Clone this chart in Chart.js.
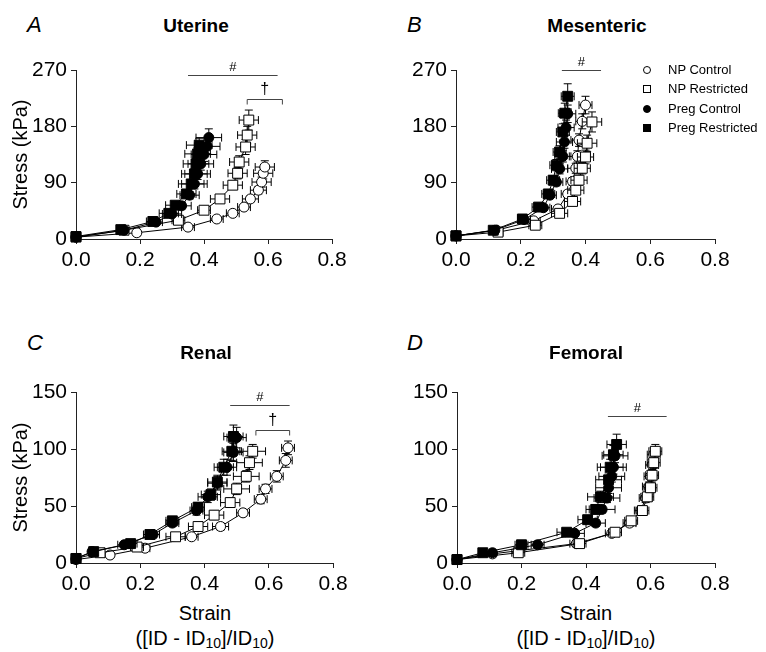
<!DOCTYPE html>
<html>
<head>
<meta charset="utf-8">
<script src="https://cdn.jsdelivr.net/npm/chart.js@4.4.0/dist/chart.umd.min.js"></script>
<style>
body { margin: 0; background: #fff; font-family: "Liberation Sans", Arial, sans-serif; color: #000; }
#page { position: relative; width: 766px; height: 652px; overflow: hidden; }
canvas, .txt { position: absolute; }
.letter { font-style: italic; font-size: 22px; line-height: 22px; }
.title { font-weight: bold; font-size: 19px; line-height: 19px; transform: translateX(-50%); white-space: nowrap; }
.xtitle { font-size: 20px; line-height: 25px; text-align: center; transform: translateX(-50%); white-space: nowrap; }
.xtitle sub { font-size: 14px; line-height: 0; vertical-align: -3px; }
.leg { font-size: 13px; line-height: 14px; white-space: nowrap; }
.mk { position: absolute; left: -25px; top: 3px; width: 8px; height: 8px; border: 1px solid #000; box-sizing: border-box; }
</style>
</head>
<body>
<div id="page">
  <canvas id="chartA" width="380" height="240" style="left:0;top:40px"></canvas>
  <canvas id="chartB" width="386" height="240" style="left:380px;top:40px"></canvas>
  <canvas id="chartC" width="380" height="240" style="left:0;top:360px"></canvas>
  <canvas id="chartD" width="386" height="240" style="left:380px;top:360px"></canvas>

  <div class="txt letter" style="left:27px;top:14px">A</div>
  <div class="txt letter" style="left:407px;top:14px">B</div>
  <div class="txt letter" style="left:27px;top:332px">C</div>
  <div class="txt letter" style="left:407px;top:332px">D</div>

  <div class="txt title" style="left:196px;top:16px">Uterine</div>
  <div class="txt title" style="left:597px;top:16px">Mesenteric</div>
  <div class="txt title" style="left:206px;top:343px">Renal</div>
  <div class="txt title" style="left:586px;top:343px">Femoral</div>

  <div class="txt xtitle" style="left:205px;top:601px">Strain<br>([ID - ID<sub>10</sub>]/ID<sub>10</sub>)</div>
  <div class="txt xtitle" style="left:586px;top:601px">Strain<br>([ID - ID<sub>10</sub>]/ID<sub>10</sub>)</div>

  <div class="txt leg" style="left:668px;top:63px"><span class="mk" style="border-radius:50%"></span>NP Control</div>
  <div class="txt leg" style="left:668px;top:82px"><span class="mk"></span>NP Restricted</div>
  <div class="txt leg" style="left:668px;top:102px"><span class="mk" style="border-radius:50%;background:#000"></span>Preg Control</div>
  <div class="txt leg" style="left:668px;top:121px"><span class="mk" style="background:#000"></span>Preg Restricted</div>
</div>
<script>
// axis ticks
const strainTicks = [0, 0.2, 0.4, 0.6, 0.8];
const stressTicksAB = [0, 90, 180, 270];
const stressTicksCD = [0, 50, 100, 150];

// A - Uterine
const A_npcStrain = [0, 0.19, 0.35, 0.44, 0.49, 0.525, 0.545, 0.57, 0.58, 0.585, 0.59];
const A_npcStress = [3, 10, 19, 32, 41, 51, 64, 78, 91, 105, 115];
const A_npcXErr = [0, 0.01, 0.02, 0.02, 0.02, 0.02, 0.025, 0.025, 0.03, 0.03, 0.03];
const A_npcYErr = [1, 1, 2, 3, 3, 4, 5, 6, 8, 9, 10];
const A_nprStrain = [0, 0.15, 0.32, 0.40, 0.45, 0.49, 0.505, 0.51, 0.53, 0.535, 0.54];
const A_nprStress = [3, 14, 30, 46, 64, 86, 105, 123, 147, 166, 190];
const A_nprXErr = [0, 0.01, 0.02, 0.02, 0.03, 0.03, 0.03, 0.03, 0.03, 0.03, 0.03];
const A_nprYErr = [1, 2, 3, 4, 5, 7, 9, 10, 12, 14, 16];
const A_pcStrain = [0, 0.15, 0.25, 0.30, 0.33, 0.355, 0.37, 0.38, 0.39, 0.40, 0.41, 0.415];
const A_pcStress = [3, 14, 27, 40, 53, 70, 88, 104, 120, 135, 148, 162];
const A_pcXErr = [0, 0.01, 0.02, 0.03, 0.03, 0.03, 0.04, 0.04, 0.04, 0.04, 0.04, 0.04];
const A_pcYErr = [1, 2, 3, 4, 5, 6, 8, 9, 10, 11, 12, 14];
const A_prStrain = [0, 0.14, 0.24, 0.29, 0.31, 0.345, 0.36, 0.37, 0.375, 0.38, 0.385];
const A_prStress = [4, 15, 28, 41, 54, 72, 88, 104, 120, 136, 150];
const A_prXErr = [0, 0.01, 0.02, 0.03, 0.03, 0.03, 0.04, 0.04, 0.04, 0.04, 0.04];
const A_prYErr = [1, 2, 3, 4, 5, 6, 7, 8, 9, 10, 11];

// B - Mesenteric
const B_npcStrain = [0, 0.125, 0.24, 0.315, 0.345, 0.36, 0.37, 0.375, 0.38, 0.39, 0.40];
const B_npcStress = [5, 14, 29, 48, 72, 92, 113, 132, 158, 188, 214];
const B_npcXErr = [0, 0.01, 0.02, 0.02, 0.02, 0.02, 0.025, 0.025, 0.025, 0.02, 0.02];
const B_npcYErr = [1, 2, 3, 4, 5, 6, 8, 9, 10, 12, 14];
const B_nprStrain = [0, 0.13, 0.245, 0.32, 0.36, 0.37, 0.38, 0.39, 0.40, 0.405, 0.42];
const B_nprStress = [5, 11, 22, 41, 60, 78, 94, 113, 131, 153, 187];
const B_nprXErr = [0, 0.015, 0.02, 0.025, 0.025, 0.025, 0.025, 0.025, 0.025, 0.03, 0.03];
const B_nprYErr = [1, 2, 3, 4, 5, 6, 8, 9, 11, 13, 16];
const B_pcStrain = [0, 0.12, 0.21, 0.27, 0.29, 0.31, 0.32, 0.33, 0.335, 0.34, 0.345];
const B_pcStress = [5, 14, 31, 50, 70, 91, 112, 132, 155, 178, 200];
const B_pcXErr = [0, 0.01, 0.02, 0.02, 0.02, 0.02, 0.025, 0.025, 0.025, 0.025, 0.025];
const B_pcYErr = [1, 2, 3, 4, 5, 6, 8, 9, 10, 12, 14];
const B_prStrain = [0, 0.115, 0.205, 0.255, 0.285, 0.30, 0.31, 0.32, 0.33, 0.336, 0.345];
const B_prStress = [5, 14, 32, 51, 72, 94, 118, 139, 171, 201, 228];
const B_prXErr = [0, 0.01, 0.015, 0.02, 0.02, 0.02, 0.02, 0.02, 0.02, 0.02, 0.02];
const B_prYErr = [1, 2, 3, 4, 6, 7, 9, 10, 13, 16, 20];

// C - Renal
const C_npcStrain = [0, 0.106, 0.215, 0.36, 0.45, 0.52, 0.575, 0.59, 0.625, 0.653, 0.66];
const C_npcStress = [3, 7, 13, 23, 32, 44, 56, 65, 76, 90, 101];
const C_npcXErr = [0, 0.01, 0.015, 0.02, 0.025, 0.02, 0.02, 0.02, 0.02, 0.02, 0.02];
const C_npcYErr = [1, 1, 2, 2, 3, 3, 4, 4, 5, 6, 6];
const C_nprStrain = [0, 0.075, 0.19, 0.31, 0.38, 0.43, 0.48, 0.50, 0.53, 0.54, 0.55];
const C_nprStress = [4, 9, 14, 23, 32, 42, 53, 65, 76, 88, 98];
const C_nprXErr = [0, 0.01, 0.02, 0.03, 0.03, 0.03, 0.03, 0.04, 0.04, 0.04, 0.04];
const C_nprYErr = [1, 1, 2, 2, 3, 4, 4, 5, 5, 6, 6];
const C_pcStrain = [0, 0.05, 0.15, 0.24, 0.30, 0.375, 0.41, 0.44, 0.47, 0.49, 0.50];
const C_pcStress = [4, 10, 16, 25, 35, 46, 58, 70, 84, 97, 110];
const C_pcXErr = [0, 0.01, 0.02, 0.02, 0.02, 0.02, 0.03, 0.03, 0.03, 0.03, 0.03];
const C_pcYErr = [1, 1, 2, 2, 3, 4, 5, 6, 7, 8, 9];
const C_prStrain = [0, 0.055, 0.17, 0.23, 0.30, 0.38, 0.42, 0.44, 0.46, 0.485, 0.49];
const C_prStress = [4, 10, 17, 25, 37, 49, 60, 71, 84, 98, 111];
const C_prXErr = [0, 0.01, 0.02, 0.02, 0.02, 0.02, 0.03, 0.03, 0.03, 0.03, 0.03];
const C_prYErr = [1, 1, 2, 2, 3, 4, 5, 6, 7, 8, 10];

// D - Femoral
const D_npcStrain = [0, 0.11, 0.37, 0.48, 0.535, 0.57, 0.585, 0.595, 0.60, 0.605, 0.61];
const D_npcStress = [3, 8, 17, 26, 35, 46, 57, 67, 76, 86, 95];
const D_npcXErr = [0, 0.01, 0.02, 0.02, 0.02, 0.02, 0.02, 0.02, 0.02, 0.02, 0.02];
const D_npcYErr = [1, 1, 2, 2, 3, 3, 4, 4, 5, 5, 6];
const D_nprStrain = [0, 0.19, 0.38, 0.49, 0.54, 0.575, 0.59, 0.60, 0.605, 0.61, 0.615];
const D_nprStress = [3, 9, 17, 27, 37, 46, 58, 66, 77, 88, 98];
const D_nprXErr = [0, 0.02, 0.02, 0.02, 0.02, 0.02, 0.02, 0.02, 0.02, 0.02, 0.02];
const D_nprYErr = [1, 1, 2, 2, 3, 3, 4, 4, 5, 5, 6];
const D_pcStrain = [0, 0.11, 0.25, 0.365, 0.43, 0.45, 0.465, 0.47, 0.48, 0.485, 0.49];
const D_pcStress = [3, 9, 16, 26, 35, 47, 57, 66, 76, 84, 94];
const D_pcXErr = [0, 0.01, 0.02, 0.03, 0.03, 0.04, 0.04, 0.04, 0.04, 0.04, 0.04];
const D_pcYErr = [1, 1, 2, 2, 3, 3, 4, 5, 5, 6, 6];
const D_prStrain = [0, 0.08, 0.20, 0.34, 0.405, 0.43, 0.445, 0.47, 0.475, 0.485, 0.495];
const D_prStress = [3, 9, 16, 27, 38, 47, 58, 73, 84, 95, 104];
const D_prXErr = [0, 0.01, 0.02, 0.03, 0.03, 0.03, 0.04, 0.04, 0.04, 0.03, 0.03];
const D_prYErr = [1, 1, 2, 2, 3, 4, 5, 6, 7, 8, 9];

// significance bars: [strain from, strain to, stress]
const A_hashBar = [0.35, 0.63, 262];
const A_daggerBar = [0.535, 0.645, 224];
const B_hashBar = [0.327, 0.448, 270];
const C_hashBar = [0.48, 0.665, 139];
const C_daggerBar = [0.56, 0.665, 117];
const D_hashBar = [0.468, 0.65, 129];

const FONT = '"Liberation Sans", Arial, sans-serif';

// error bars under each dataset
const errorBars = {
    id: 'errorBars',
    beforeDatasetDraw(chart, args) {
        const ds = chart.data.datasets[args.index];
        if (!ds.xErr) return;
        const { ctx, scales: { x, y } } = chart;
        ctx.save();
        ctx.strokeStyle = '#000';
        ctx.lineWidth = 1;
        ctx.beginPath();
        ds.data.forEach((p, i) => {
            const px = x.getPixelForValue(p.x), py = y.getPixelForValue(p.y);
            const ex = ds.xErr[i], ey = ds.yErr[i];
            if (ex) {
                const l = x.getPixelForValue(p.x - ex), r = x.getPixelForValue(p.x + ex);
                ctx.moveTo(l, py); ctx.lineTo(r, py);
                ctx.moveTo(l, py - 4); ctx.lineTo(l, py + 4);
                ctx.moveTo(r, py - 4); ctx.lineTo(r, py + 4);
            }
            if (ey) {
                const t = y.getPixelForValue(p.y + ey), b = y.getPixelForValue(p.y - ey);
                ctx.moveTo(px, t); ctx.lineTo(px, b);
                ctx.moveTo(px - 4, t); ctx.lineTo(px + 4, t);
                ctx.moveTo(px - 4, b); ctx.lineTo(px + 4, b);
            }
        });
        ctx.stroke();
        ctx.restore();
    }
};

// # and dagger brackets
const sigBars = {
    id: 'sigBars',
    afterDraw(chart, args, opts) {
        const { ctx, scales: { x, y } } = chart;
        ctx.save();
        ctx.strokeStyle = '#444';
        ctx.fillStyle = '#000';
        ctx.lineWidth = 1;
        ctx.textAlign = 'center';
        ctx.textBaseline = 'bottom';
        (opts.bars || []).forEach(b => {
            const x0 = x.getPixelForValue(b.span[0]), x1 = x.getPixelForValue(b.span[1]);
            const py = Math.round(y.getPixelForValue(b.span[2])) + 0.5;
            ctx.beginPath();
            if (b.bracket) {
                ctx.moveTo(x0, py + 5); ctx.lineTo(x0, py); ctx.lineTo(x1, py); ctx.lineTo(x1, py + 5);
            } else {
                ctx.moveTo(x0, py); ctx.lineTo(x1, py);
            }
            ctx.stroke();
            ctx.font = b.bracket ? '16px ' + FONT : '13px ' + FONT;
            ctx.fillText(b.label, (x0 + x1) / 2, py - 2);
        });
        ctx.restore();
    }
};

function series(label, strain, stress, xErr, yErr, style, filled) {
    return {
        label,
        data: strain.map((s, i) => ({ x: s, y: stress[i] })),
        xErr, yErr,
        showLine: true,
        borderColor: '#000',
        borderWidth: 1,
        pointStyle: style,
        pointRadius: style === 'rect' ? 7 : 5,
        pointBorderWidth: 1,
        pointBorderColor: '#000',
        pointBackgroundColor: filled ? '#000' : '#fff',
        clip: false
    };
}

function makePanel(id, datasets, stressTicks, yTitle, bars, pad) {
    const axisStyle = {
        border: { display: true, color: '#222', width: 1 },
        grid: { drawOnChartArea: false, drawTicks: true, tickLength: 5, color: '#222' },
        ticks: { color: '#000', font: { family: FONT, size: 21 }, padding: 4 }
    };
    new Chart(document.getElementById(id), {
        type: 'scatter',
        data: { datasets },
        options: {
            responsive: false,
            animation: false,
            layout: { padding: pad },
            plugins: { legend: { display: false }, tooltip: { enabled: false }, sigBars: { bars } },
            scales: {
                x: {
                    ...axisStyle,
                    min: 0, max: 0.8,
                    afterBuildTicks: s => { s.ticks = strainTicks.map(v => ({ value: v })); },
                    afterFit: s => { s.height = 35; },
                    ticks: { ...axisStyle.ticks, maxRotation: 0, callback: v => v.toFixed(1) }
                },
                y: {
                    ...axisStyle,
                    min: 0, max: stressTicks[stressTicks.length - 1],
                    afterBuildTicks: s => { s.ticks = stressTicks.map(v => ({ value: v })); },
                    afterFit: s => { s.width = 76; },
                    title: {
                        display: !!yTitle, text: yTitle, color: '#000',
                        font: { family: FONT, size: 20 }, padding: { top: 9, bottom: 0 }
                    }
                }
            }
        },
        plugins: [errorBars, sigBars]
    });
}

function panelSets(p) {
    return [
        series('Preg Restricted', p.prS, p.prT, p.prX, p.prY, 'rect', true),
        series('Preg Control', p.pcS, p.pcT, p.pcX, p.pcY, 'circle', true),
        series('NP Restricted', p.nprS, p.nprT, p.nprX, p.nprY, 'rect', false),
        series('NP Control', p.npcS, p.npcT, p.npcX, p.npcY, 'circle', false)
    ];
}

makePanel('chartA', panelSets({
    npcS: A_npcStrain, npcT: A_npcStress, npcX: A_npcXErr, npcY: A_npcYErr,
    nprS: A_nprStrain, nprT: A_nprStress, nprX: A_nprXErr, nprY: A_nprYErr,
    pcS: A_pcStrain, pcT: A_pcStress, pcX: A_pcXErr, pcY: A_pcYErr,
    prS: A_prStrain, prT: A_prStress, prX: A_prXErr, prY: A_prYErr
}), stressTicksAB, 'Stress (kPa)',
    [{ span: A_hashBar, label: '#' }, { span: A_daggerBar, label: '\u2020', bracket: true }],
    { left: 0, top: 30, right: 48, bottom: 6 });

makePanel('chartB', panelSets({
    npcS: B_npcStrain, npcT: B_npcStress, npcX: B_npcXErr, npcY: B_npcYErr,
    nprS: B_nprStrain, nprT: B_nprStress, nprX: B_nprXErr, nprY: B_nprYErr,
    pcS: B_pcStrain, pcT: B_pcStress, pcX: B_pcXErr, pcY: B_pcYErr,
    prS: B_prStrain, prT: B_prStress, prX: B_prXErr, prY: B_prYErr
}), stressTicksAB, '',
    [{ span: B_hashBar, label: '#' }],
    { left: 0, top: 30, right: 51, bottom: 6 });

makePanel('chartC', panelSets({
    npcS: C_npcStrain, npcT: C_npcStress, npcX: C_npcXErr, npcY: C_npcYErr,
    nprS: C_nprStrain, nprT: C_nprStress, nprX: C_nprXErr, nprY: C_nprYErr,
    pcS: C_pcStrain, pcT: C_pcStress, pcX: C_pcXErr, pcY: C_pcYErr,
    prS: C_prStrain, prT: C_prStress, prX: C_prXErr, prY: C_prYErr
}), stressTicksCD, 'Stress (kPa)',
    [{ span: C_hashBar, label: '#' }, { span: C_daggerBar, label: '\u2020', bracket: true }],
    { left: 0, top: 32, right: 47, bottom: 2 });

makePanel('chartD', panelSets({
    npcS: D_npcStrain, npcT: D_npcStress, npcX: D_npcXErr, npcY: D_npcYErr,
    nprS: D_nprStrain, nprT: D_nprStress, nprX: D_nprXErr, nprY: D_nprYErr,
    pcS: D_pcStrain, pcT: D_pcStress, pcX: D_pcXErr, pcY: D_pcYErr,
    prS: D_prStrain, prT: D_prStress, prX: D_prXErr, prY: D_prYErr
}), stressTicksCD, '',
    [{ span: D_hashBar, label: '#' }],
    { left: 1, top: 32, right: 51, bottom: 2 });
</script>
</body>
</html>
